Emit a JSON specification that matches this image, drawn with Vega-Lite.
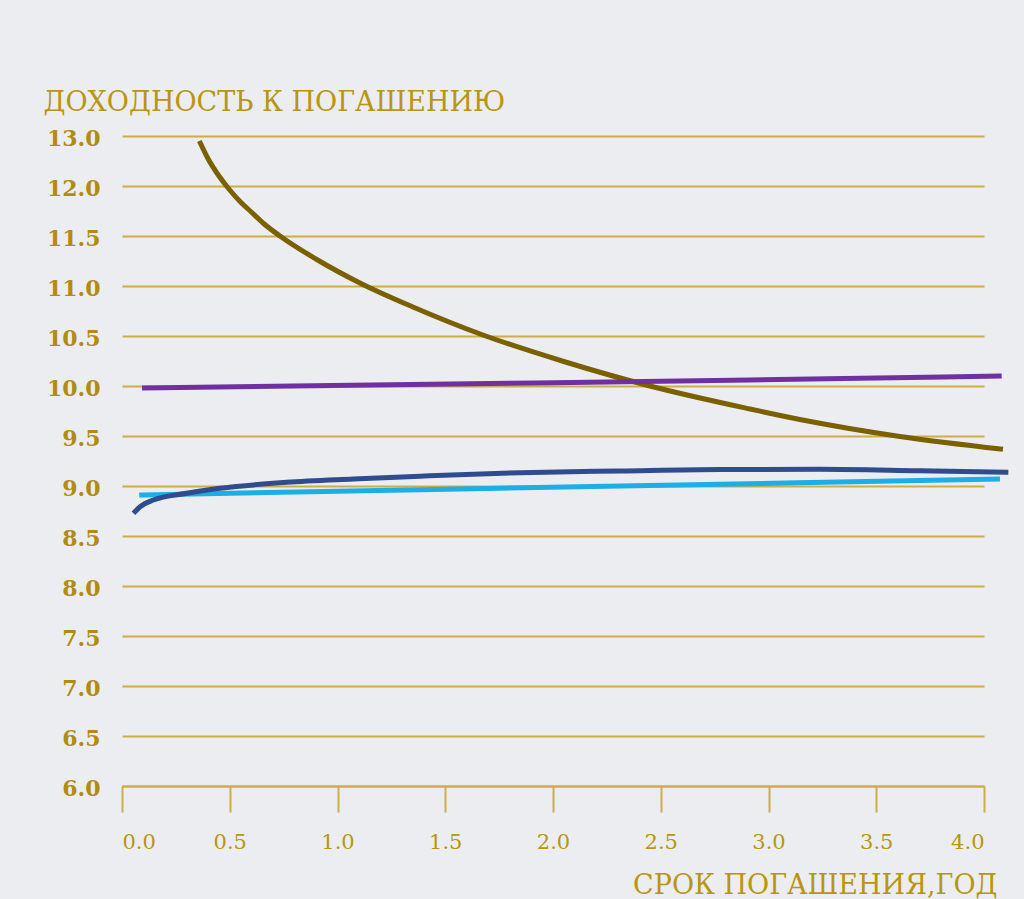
{
  "$schema": "https://vega.github.io/schema/vega-lite/v6.json",
  "autosize": "none",
  "width": 862,
  "height": 650,
  "padding": {"left": 122, "top": 136, "right": 40, "bottom": 113},
  "background": "#ECEDF1",
  "config": {"view": {"stroke": null}},
  "data": {"values": [
    {"s": "s1", "t": 0.359, "y": 12.45},
    {"s": "s1", "t": 0.4, "y": 12.27},
    {"s": "s1", "t": 0.45, "y": 12.1},
    {"s": "s1", "t": 0.5, "y": 11.96},
    {"s": "s1", "t": 0.55, "y": 11.84},
    {"s": "s1", "t": 0.6, "y": 11.74},
    {"s": "s1", "t": 0.66, "y": 11.62},
    {"s": "s1", "t": 0.733, "y": 11.5},
    {"s": "s1", "t": 0.9, "y": 11.27},
    {"s": "s1", "t": 1.104, "y": 11.03},
    {"s": "s1", "t": 1.35, "y": 10.79},
    {"s": "s1", "t": 1.675, "y": 10.51},
    {"s": "s1", "t": 2.05, "y": 10.245},
    {"s": "s1", "t": 2.45, "y": 10.0},
    {"s": "s1", "t": 2.914, "y": 9.77},
    {"s": "s1", "t": 3.146, "y": 9.665},
    {"s": "s1", "t": 3.61, "y": 9.495},
    {"s": "s1", "t": 4.088, "y": 9.367},
    {"s": "s2", "t": 0.08, "y": 8.91},
    {"s": "s2", "t": 1.383, "y": 8.963},
    {"s": "s2", "t": 2.775, "y": 9.018},
    {"s": "s2", "t": 4.074, "y": 9.07},
    {"s": "s3", "t": 0.053, "y": 8.727},
    {"s": "s3", "t": 0.084, "y": 8.793},
    {"s": "s3", "t": 0.145, "y": 8.86},
    {"s": "s3", "t": 0.3, "y": 8.927},
    {"s": "s3", "t": 0.455, "y": 8.977},
    {"s": "s3", "t": 0.764, "y": 9.037},
    {"s": "s3", "t": 1.073, "y": 9.07},
    {"s": "s3", "t": 1.383, "y": 9.098},
    {"s": "s3", "t": 1.847, "y": 9.133},
    {"s": "s3", "t": 2.311, "y": 9.15},
    {"s": "s3", "t": 2.775, "y": 9.165},
    {"s": "s3", "t": 3.239, "y": 9.167},
    {"s": "s3", "t": 3.703, "y": 9.152},
    {"s": "s3", "t": 4.113, "y": 9.137},
    {"s": "s4", "t": 0.093, "y": 9.98},
    {"s": "s4", "t": 1.522, "y": 10.02},
    {"s": "s4", "t": 2.914, "y": 10.06},
    {"s": "s4", "t": 4.082, "y": 10.1}
  ]},
  "mark": {"type": "line", "strokeWidth": 5, "interpolate": "monotone", "strokeCap": "butt"},
  "encoding": {
    "x": {
      "field": "t", "type": "quantitative",
      "scale": {"domain": [0, 4], "nice": false, "zero": false},
      "axis": {
        "values": [0, 0.5, 1, 1.5, 2, 2.5, 3, 3.5, 4],
        "format": ".1f",
        "grid": false,
        "domainColor": "#CDAE45", "domainWidth": 2,
        "tickColor": "#CDAE45", "tickWidth": 2, "tickSize": 26,
        "labelFont": "DejaVu Serif", "labelFontSize": 21, "labelColor": "#B8960F",
        "labelPadding": 19,
        "title": "СРОК ПОГАШЕНИЯ,ГОД",
        "titleFont": "DejaVu Serif", "titleFontSize": 27, "titleFontWeight": "normal",
        "titleColor": "#B8960F",
        "titleAnchor": null, "titleAlign": "right", "titleBaseline": "alphabetic",
        "titleX": 875, "titleY": 107
      }
    },
    "y": {
      "field": "y", "type": "quantitative",
      "scale": {"domain": [6, 12.5], "nice": false, "zero": false},
      "axis": {
        "values": [6, 6.5, 7, 7.5, 8, 8.5, 9, 9.5, 10, 10.5, 11, 11.5, 12, 12.5],
        "labelExpr": "datum.value == 12.5 ? '13.0' : format(datum.value, '.1f')",
        "grid": true, "gridColor": "#CDAE45", "gridWidth": 2,
        "domain": false, "ticks": false,
        "labelFont": "DejaVu Serif", "labelFontSize": 22, "labelFontWeight": "bold",
        "labelColor": "#B08C10", "labelPadding": 22, "labelBaseline": "middle",
        "labelOffset": 2,
        "title": "ДОХОДНОСТЬ К ПОГАШЕНИЮ",
        "titleFont": "DejaVu Serif", "titleFontSize": 27, "titleFontWeight": "normal",
        "titleColor": "#B8960F", "titleAngle": 0,
        "titleAnchor": null, "titleAlign": "left", "titleBaseline": "alphabetic",
        "titleX": -79, "titleY": -26
      }
    },
    "color": {
      "field": "s", "type": "nominal",
      "scale": {"domain": ["s1", "s2", "s3", "s4"], "range": ["#7B6000", "#1CAEE6", "#2E4C8E", "#7030A0"]},
      "legend": null
    }
  }
}
